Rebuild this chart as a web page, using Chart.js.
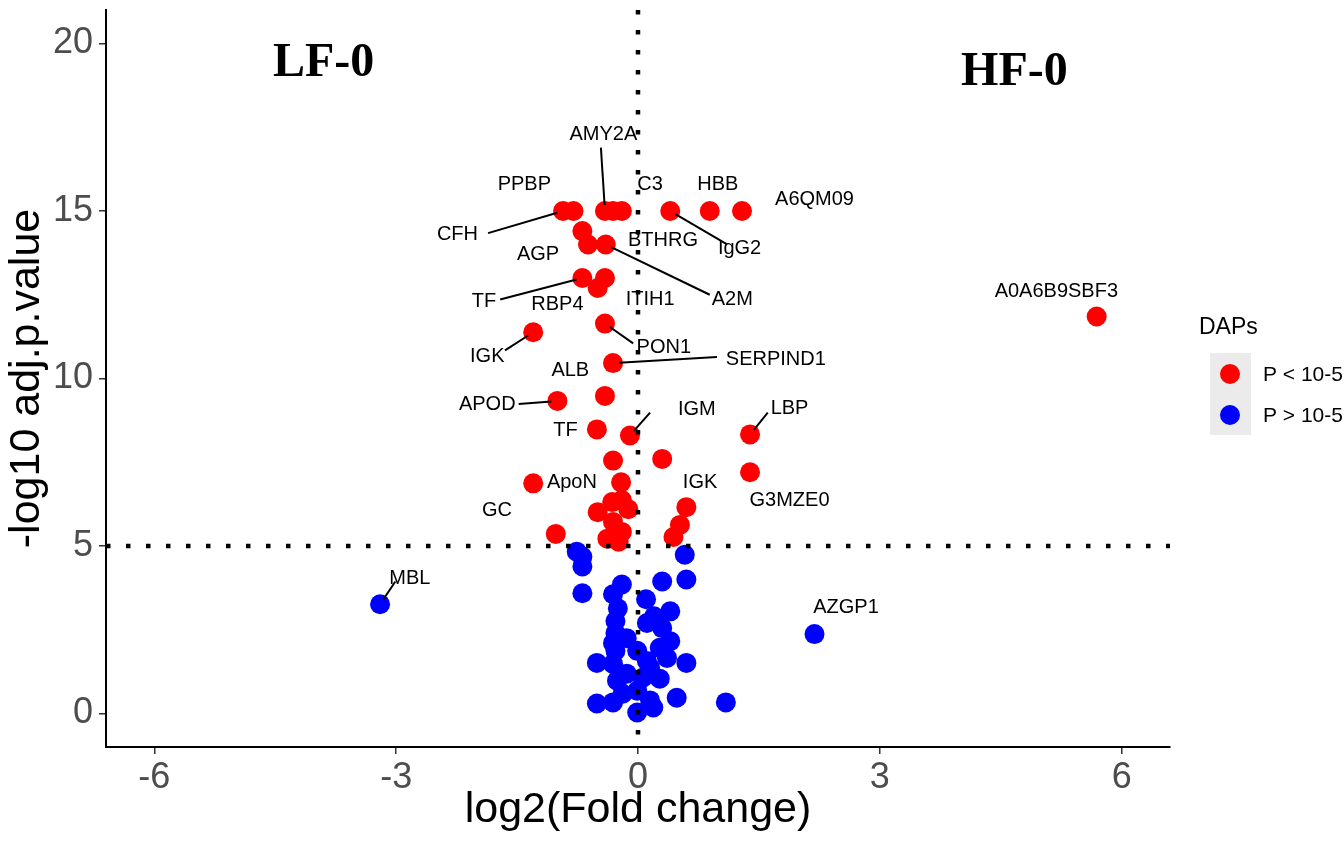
<!DOCTYPE html>
<html>
<head>
<meta charset="utf-8">
<script src="https://cdn.jsdelivr.net/npm/chart.js@4.4.1/dist/chart.umd.min.js"></script>
<style>
  html, body { margin: 0; padding: 0; background: #fff; }
  #wrap { width: 1344px; height: 848px; }
</style>
</head>
<body>
<div id="wrap"><canvas id="volcano"></canvas></div>
<script>
// DAPs with P < 10-5 (red)
const sigFC = [-0.93, -0.80, -0.41, -0.31, -0.20, 0.40, 0.89, 1.29, -0.69, -0.62,
               -0.40, -0.69, -0.41, -0.50, -0.41, -1.30, 5.69, -0.31, -1.00, -0.41,
               -0.51, -0.10, 1.39, 1.39, 0.30, -0.31, -1.30, -0.21, -0.32, -0.20,
               -0.12, -0.50, -0.31, -0.20, -0.38, -1.02, 0.60, 0.52, 0.44, -0.24];
const sigP  = [15.0, 15.0, 15.0, 15.0, 15.0, 15.0, 15.0, 15.0, 14.4, 14.0,
               14.0, 13.0, 13.0, 12.7, 11.64, 11.38, 11.85, 10.46, 9.33, 9.48,
               8.48, 8.30, 8.33, 7.20, 7.60, 7.55, 6.87, 6.90, 6.31, 6.37,
               6.10, 6.01, 5.72, 5.42, 5.22, 5.36, 6.16, 5.63, 5.27, 5.13];

// proteins with P > 10-5 (blue)
const nsFC = [-0.76, -0.69, -0.69, -0.69, 0.58, 0.60, 0.30, -0.20, -0.31, 0.10,
              0.40, -0.25, -0.28, 0.11, -0.28, 0.30, 0.40, 0.27, -0.28, -0.14,
              -0.01, -0.51, 0.60, -0.31, 0.11, 0.36, 0.15, -0.26, 0.27, 0.06,
              -0.14, -0.51, -0.31, 0.15, 0.48, -0.01, 0.19, 1.09, -0.19, -0.01,
              -0.31, 0.20, -3.20, 2.19];
const nsP  = [4.83, 4.68, 4.39, 3.59, 4.74, 4.00, 3.94, 3.85, 3.56, 3.41,
              3.05, 3.14, 2.76, 2.70, 2.40, 2.55, 2.16, 1.96, 1.87, 2.25,
              1.87, 1.51, 1.51, 1.48, 1.57, 1.66, 1.36, 0.98, 1.04, 1.07,
              1.19, 0.30, 0.33, 0.39, 0.47, 0.03, 0.18, 0.33, 0.59, 0.68,
              2.10, 2.90, 3.26, 2.37];

const xTicks = [-6, -3, 0, 3, 6];
const yTicks = [0, 5, 10, 15, 20];
const groupNames = ["P < 10-5", "P > 10-5"];
const cutFC = 0;
const cutP = 5;

// protein labels: text, label x/y (data units), optional leader [fromX, fromY, pointX, pointY]
const geneLabels = [
  ["AMY2A", -0.43, 17.27, [-0.46, 16.89, -0.41, 15.0]],
  ["PPBP", -1.41, 15.79],
  ["C3", 0.15, 15.79],
  ["HBB", 0.99, 15.79],
  ["A6QM09", 2.19, 15.35],
  ["CFH", -2.24, 14.31, [-1.86, 14.34, -0.93, 15.0]],
  ["BTHRG", 0.31, 14.13],
  ["IgG2", 1.26, 13.87, [1.10, 14.01, 0.40, 15.0]],
  ["AGP", -1.24, 13.69],
  ["A2M", 1.17, 12.36, [0.89, 12.5, -0.40, 14.0]],
  ["TF", -1.91, 12.30, [-1.71, 12.36, -0.69, 13.0]],
  ["RBP4", -1.00, 12.21],
  ["ITIH1", 0.15, 12.36],
  ["A0A6B9SBF3", 5.19, 12.59],
  ["IGK", -1.87, 10.67, [-1.65, 10.84, -1.30, 11.38]],
  ["PON1", 0.32, 10.93, [-0.06, 11.05, -0.41, 11.64]],
  ["ALB", -0.84, 10.25],
  ["SERPIND1", 1.71, 10.58, [0.98, 10.64, -0.31, 10.46]],
  ["APOD", -1.87, 9.21, [-1.48, 9.24, -1.00, 9.33]],
  ["TF", -0.90, 8.44],
  ["IGM", 0.73, 9.07, [0.15, 8.98, -0.10, 8.30]],
  ["LBP", 1.88, 9.10, [1.61, 8.98, 1.39, 8.33]],
  ["ApoN", -0.82, 6.90],
  ["GC", -1.75, 6.07],
  ["IGK", 0.77, 6.90],
  ["G3MZE0", 1.88, 6.37],
  ["MBL", -2.83, 4.03, [-3.01, 3.94, -3.20, 3.26]],
  ["AZGP1", 2.58, 3.17]
];
const groupTitles = [["LF-0", -3.9, 19.4], ["HF-0", 4.67, 19.14]];

const SANS = '"Liberation Sans", Arial, sans-serif';
const dotR = 10;

const overlay = {
  id: 'overlay',
  afterDatasetsDraw(chart) {
    const {ctx, chartArea: a, scales: {x, y}} = chart;
    ctx.save();

    // threshold lines
    ctx.strokeStyle = '#000';
    ctx.lineWidth = 4.5;
    ctx.lineCap = 'butt';
    ctx.setLineDash([4.5, 15.5]);
    ctx.beginPath();
    const x0 = x.getPixelForValue(cutFC), y5 = y.getPixelForValue(cutP);
    ctx.moveTo(x0, a.top); ctx.lineTo(x0, a.bottom);
    ctx.moveTo(a.left, y5); ctx.lineTo(a.right, y5);
    ctx.stroke();
    ctx.setLineDash([]);

    // leader segments
    ctx.lineWidth = 2;
    geneLabels.forEach(([t, lx, ly, seg]) => {
      if (!seg) return;
      const sx = x.getPixelForValue(seg[0]), sy = y.getPixelForValue(seg[1]);
      let ex = x.getPixelForValue(seg[2]), ey = y.getPixelForValue(seg[3]);
      const d = Math.hypot(ex - sx, ey - sy);
      const k = Math.max(0, (d - dotR * 0.6) / d);
      ex = sx + (ex - sx) * k; ey = sy + (ey - sy) * k;
      ctx.beginPath(); ctx.moveTo(sx, sy); ctx.lineTo(ex, ey); ctx.stroke();
    });

    // label text
    ctx.fillStyle = '#000';
    ctx.textAlign = 'center';
    ctx.textBaseline = 'middle';
    ctx.font = '20px ' + SANS;
    geneLabels.forEach(([t, lx, ly]) => {
      ctx.fillText(t, x.getPixelForValue(lx), y.getPixelForValue(ly));
    });

    ctx.font = 'bold 48px "Liberation Serif", "Times New Roman", serif';
    groupTitles.forEach(([t, gx, gy]) => {
      ctx.fillText(t, x.getPixelForValue(gx), y.getPixelForValue(gy));
    });

    // legend
    ctx.textAlign = 'left';
    ctx.font = '23px ' + SANS;
    ctx.fillText('DAPs', a.right + 29, 328);
    ctx.fillStyle = '#ebebeb';
    ctx.fillRect(a.right + 40, 353, 41, 82);
    const cols = ['#ff0000', '#0000ff'];
    const rowsY = [374, 415];
    ctx.font = '21px ' + SANS;
    groupNames.forEach((g, i) => {
      ctx.fillStyle = cols[i];
      ctx.beginPath();
      ctx.arc(a.right + 60, rowsY[i], 10, 0, Math.PI * 2);
      ctx.fill();
      ctx.fillStyle = '#000';
      ctx.fillText(g, a.right + 93, rowsY[i] + 1);
    });

    ctx.restore();
  }
};

const toPoints = (xs, ys) => xs.map((v, i) => ({x: v, y: ys[i]}));

new Chart(document.getElementById('volcano'), {
  type: 'scatter',
  data: {
    datasets: [{
      label: groupNames[0],
      data: toPoints(sigFC, sigP),
      backgroundColor: '#ff0000',
      borderWidth: 0,
      pointRadius: dotR
    }, {
      label: groupNames[1],
      data: toPoints(nsFC, nsP),
      backgroundColor: '#0000ff',
      borderWidth: 0,
      pointRadius: dotR
    }]
  },
  options: {
    responsive: true,
    maintainAspectRatio: false,
    devicePixelRatio: 1,
    animation: false,
    events: [],
    layout: { padding: { top: 5, right: 174, bottom: 0, left: 0 } },
    plugins: {
      legend: { display: false },
      tooltip: { enabled: false }
    },
    scales: {
      x: {
        type: 'linear',
        min: -6.6,
        max: 6.6,
        afterBuildTicks: s => { s.ticks = xTicks.map(v => ({value: v})); },
        afterFit: s => { s.height = 101; s.paddingLeft = 0; s.paddingRight = 0; },
        grid: { display: true, drawOnChartArea: false, drawTicks: true, tickLength: 7, color: '#333', lineWidth: 1.5 },
        border: { display: true, color: '#000', width: 2 },
        ticks: { color: '#4d4d4d', font: { size: 36, family: SANS }, padding: 2, maxRotation: 0, callback: v => String(v) },
        title: { display: true, text: 'log2(Fold change)', color: '#000',
                 font: { size: 43, family: SANS, lineHeight: 1.2 }, padding: { top: 0, bottom: 12 } }
      },
      y: {
        type: 'linear',
        min: -1,
        max: 21,
        afterBuildTicks: s => { s.ticks = yTicks.map(v => ({value: v})); },
        afterFit: s => { s.width = 106; s.paddingTop = 0; s.paddingBottom = 0; },
        grid: { display: true, drawOnChartArea: false, drawTicks: true, tickLength: 7, color: '#333', lineWidth: 1.5 },
        border: { display: true, color: '#000', width: 2 },
        ticks: { color: '#4d4d4d', font: { size: 36, family: SANS }, padding: 6, callback: v => String(v) },
        title: { display: true, text: '-log10 adj.p.value', color: '#000',
                 font: { size: 43, family: SANS, lineHeight: 1.2 }, padding: { top: 1, bottom: 0 } }
      }
    }
  },
  plugins: [overlay]
});
</script>
</body>
</html>
